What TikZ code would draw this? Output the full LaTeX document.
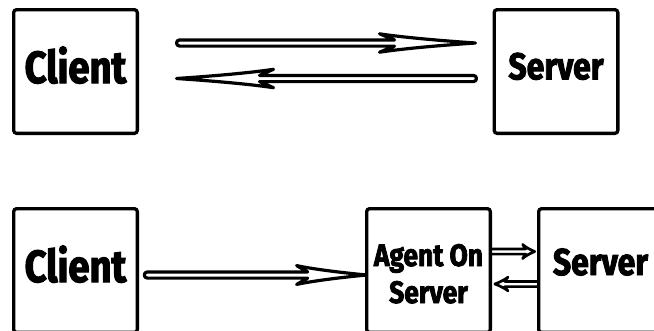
\documentclass[tikz,border=0pt]{standalone}
\usepackage{fontspec}
\usetikzlibrary{calc,backgrounds}
\newfontfamily\lblfont{Fira Sans}[FakeStretch=0.85, FakeBold=2.5]
\tikzset{
  box/.style={draw=black, line width=3.3pt, fill=white, rounded corners=3pt,
    minimum width=123.7pt, minimum height=123.7pt, inner sep=0pt, outer sep=0pt},
  bigfont/.style={font=\lblfont\bfseries\fontsize{45pt}{45pt}\selectfont},
  srvfont/.style={font=\lblfont\bfseries\fontsize{37.5pt}{37.5pt}\selectfont},
  agentfont/.style={font=\lblfont\bfseries\fontsize{31pt}{37pt}\selectfont},
  bigarrow/.style={draw=black, fill=white, line width=3.2pt, line join=round},
  smallarrow/.style={draw=black, fill=white, line width=2.7pt, line join=round},
}
% #1 style, #2 from, #3 to, #4 head length, #5 head half width, #6 shaft half width, #7 notch
\newcommand\hollowarrow[7]{%
  \draw[#1] let \p1=(#2), \p2=(#3), \n1={sign(\x2-\x1)} in
    (\x1,\y1+#6) -- ({\x2-\n1*(#4-#7)},\y1+#6) -- ({\x2-\n1*#4},\y1+#5)
    .. controls ({\x2-\n1*0.85*#4},\y1+0.75*#5) and ({\x2-\n1*0.5*#4},\y1+0.35*#5) .. (\x2,\y1)
    .. controls ({\x2-\n1*0.5*#4},\y1-0.35*#5) and ({\x2-\n1*0.85*#4},\y1-0.75*#5) .. ({\x2-\n1*#4},\y1-#5)
    -- ({\x2-\n1*(#4-#7)},\y1-#6) -- (\x1,\y1-#6)
    arc[start angle=-90, end angle={-90-180*\n1}, radius=#6] -- cycle;}
\begin{document}
\begin{tikzpicture}[x=1pt,y=-1pt]
\useasboundingbox (0,0) rectangle (654,330);
\clip (0,0) rectangle (654,330);
% top row
\node[box, bigfont, text height=23pt, text depth=0pt] (cTop) at (75.5,71.5) {Client};
\node[box, srvfont, text height=15.6pt, text depth=0pt] (sTop) at (556,71.5) {Server};
% bottom row
\node[box, bigfont, text height=23pt, text depth=0pt] (cBot) at (75.5,270.5) {Client};
\node[box, agentfont, align=center, text height=65pt, text depth=0pt] (agent) at (428.5,270.5) {Agent On\\Server};
\node[box, srvfont, text height=9pt, text depth=0pt] (sBot) at (600.5,270.5) {Server};
% free ends of the top connectors
\coordinate (t1s) at (179.6,43);
\coordinate (t1e) at (475.5,43);
\coordinate (t2s) at (473.4,78.5);
\coordinate (t2e) at (176.5,78.5);
\begin{pgfonlayer}{background}
  \hollowarrow{bigarrow}{t1s}{t1e}{96pt}{9.2pt}{3.1pt}{15pt}
  \hollowarrow{bigarrow}{t2s}{t2e}{97pt}{9.2pt}{3.1pt}{14pt}
  \hollowarrow{bigarrow}{$(cBot.east)+(10pt,-4.5pt)$}{$(agent.west)+(0pt,-4.5pt)$}{70pt}{9.4pt}{3.1pt}{11pt}
  \hollowarrow{smallarrow}{$(agent.east)+(-6pt,19pt)$}{$(sBot.west)+(-4pt,19pt)$}{12pt}{7pt}{2.6pt}{3pt}
  \hollowarrow{smallarrow}{$(sBot.west)+(6pt,-13.5pt)$}{$(agent.east)+(4.5pt,-13.5pt)$}{13pt}{6.8pt}{2.6pt}{3pt}
\end{pgfonlayer}
\end{tikzpicture}
\end{document}
